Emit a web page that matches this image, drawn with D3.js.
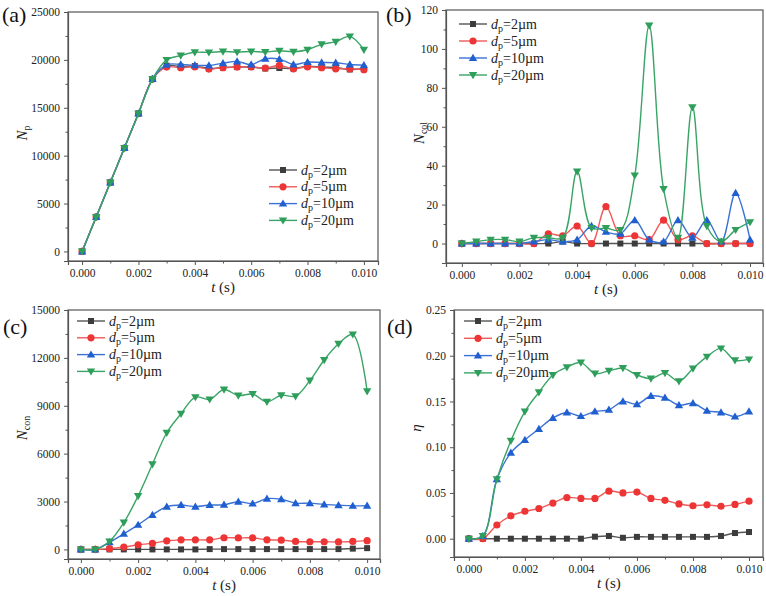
<!DOCTYPE html>
<html><head><meta charset="utf-8">
<script src="https://cdn.jsdelivr.net/npm/d3@7/dist/d3.min.js"></script>
<style>body{margin:0;background:#fff} svg text{font-family:'Liberation Serif';}</style>
</head><body><svg id="c" width="766" height="596"></svg>
<script>
const FONT = "'Liberation Serif'";
const times = [0,0.0005,0.001,0.0015,0.002,0.0025,0.003,0.0035,0.004,0.0045,0.005,0.0055,0.006,0.0065,0.007,0.0075,0.008,0.0085,0.009,0.0095,0.010];
const seriesNames = ["2µm","5µm","10µm","20µm"];
const colors = ["#3c3c3c","#ee3535","#1f5fd0","#2e9e5b"];
const lineColors = ["#555555","#f05a5a","#3a72d6","#3aa466"];
const symbols = ["square","circle","triUp","triDown"];

// (a) Np
const Np_2  = [0,3600,7200,10800,14400,18000,19400,19300,19350,19100,19200,19250,19250,19100,19150,19100,19350,19250,19200,19000,19100];
const Np_5  = [0,3600,7200,10800,14400,18000,19250,19180,19280,19040,19180,19250,19280,19140,19420,19070,19280,19180,19070,19070,18970];
const Np_10 = [0,3600,7200,10800,14400,18000,19490,19520,19450,19420,19660,19840,19520,20120,20080,19520,19770,19730,19700,19520,19450];
const Np_20 = [0,3600,7200,10800,14400,18000,20000,20450,20800,20780,20880,20810,20880,20820,20950,20850,21060,21620,21900,22450,21060];
// (b) Ncol
const Ncol_2  = [0,0,0,0,0,0,0,1,0,0,0,0,0,0,0,0,0,0,0,0,0];
const Ncol_5  = [0,0,0,0,0,0,5,4,9,0,19,4,4,2,12,2,4,0,0,0,0];
const Ncol_10 = [0,0,0,0,0,1,2,1,2,9,6,5,12,2,1,12,3,12,1,26,2];
const Ncol_20 = [0,1,2,2,1,3,3,3,37,8,8,7,35,112,28,3,70,9,1,7,11];
// (c) Ncon
const Ncon_2  = [0,0,0,0,0,0,0,0,0,20,20,20,20,20,20,20,20,20,20,50,80];
const Ncon_5  = [0,0,50,150,290,380,540,600,600,600,730,720,720,600,580,500,480,480,470,500,550];
const Ncon_10 = [0,0,450,980,1540,2160,2680,2780,2680,2780,2800,2990,2870,3180,3140,2900,2900,2820,2770,2730,2740];
const Ncon_20 = [0,0,500,1680,3350,5340,7310,8500,9540,9400,10020,9640,9730,9250,9660,9600,10580,11870,12880,13470,9910];
// (d) eta
const eta_2  = [0,0,0,0,0,0,0,0,0,0.0022,0.003,0.001,0.002,0.002,0.002,0.002,0.002,0.002,0.003,0.0062,0.0073];
const eta_5  = [0,0,0.015,0.025,0.030,0.033,0.039,0.045,0.044,0.044,0.052,0.050,0.051,0.044,0.042,0.038,0.036,0.037,0.0355,0.0375,0.041];
const eta_10 = [0,0.003,0.065,0.094,0.108,0.120,0.132,0.138,0.134,0.139,0.141,0.150,0.147,0.156,0.154,0.146,0.148,0.140,0.138,0.1335,0.139];
const eta_20 = [0,0.003,0.065,0.107,0.139,0.160,0.179,0.1875,0.1925,0.1805,0.1835,0.1865,0.179,0.175,0.181,0.172,0.186,0.199,0.208,0.195,0.196];

const xTicks = [0,0.002,0.004,0.006,0.008,0.010];
const yTicksA = [0,5000,10000,15000,20000,25000];
const yTicksB = [0,20,40,60,80,100,120];
const yTicksC = [0,3000,6000,9000,12000,15000];
const yTicksD = [0,0.05,0.10,0.15,0.20,0.25];

const svg = d3.select("#c");

const panels = [
  {label:"(a)", lx:2, ly:22, box:[68,12,378,261], xd:[-0.0005,0.0105], yd:[-1000,25000], yt:yTicksA, yfmt:d3.format("d"),
   data:[Np_2,Np_5,Np_10,Np_20], title:["N","p"], tx:27, ty:133, leg:[269,170,16.8]},
  {label:"(b)", lx:386, ly:22, box:[446,10,763,263], xd:[-0.00055,0.01045], yd:[-10,120], yt:yTicksB, yfmt:d3.format("d"),
   data:[Ncol_2,Ncol_5,Ncol_10,Ncol_20], title:["N","col"], tx:424, ty:133, leg:[459,24,17]},
  {label:"(c)", lx:3, ly:334, box:[68,310,380,559], xd:[-0.00045,0.01045], yd:[-600,15000], yt:yTicksC, yfmt:d3.format("d"),
   data:[Ncon_2,Ncon_5,Ncon_10,Ncon_20], title:["N","con"], tx:27, ty:428, leg:[77,321,16.8]},
  {label:"(d)", lx:387, ly:334, box:[454,310,763,557], xd:[-0.00053,0.0105], yd:[-0.02,0.25], yt:yTicksD, yfmt:d3.format(".2f"),
   data:[eta_2,eta_5,eta_10,eta_20], title:["η",""], tx:421, ty:428, leg:[464,321,17.3]}
];

function drawSymbol(g, type, x, y, col){
  if(type==="square") g.append("rect").attr("x",x-3).attr("y",y-3).attr("width",6).attr("height",6).attr("fill",col);
  else if(type==="circle") g.append("circle").attr("cx",x).attr("cy",y).attr("r",3.6).attr("fill",col);
  else if(type==="triUp") g.append("path").attr("d",`M${x},${y-4.2}L${x+4.2},${y+3}L${x-4.2},${y+3}Z`).attr("fill",col);
  else g.append("path").attr("d",`M${x},${y+4.2}L${x+4.2},${y-3}L${x-4.2},${y-3}Z`).attr("fill",col);
}

panels.forEach(p=>{
  const [L,T,R,B] = p.box;
  const x = d3.scaleLinear().domain(p.xd).range([L,R]);
  const y = d3.scaleLinear().domain(p.yd).range([B,T]);
  const g = svg.append("g");
  g.append("rect").attr("x",L).attr("y",T).attr("width",R-L).attr("height",B-T).attr("fill","none").attr("stroke","#555").attr("stroke-width",1.2);
  const xAxis = d3.axisBottom(x).tickValues(xTicks).tickFormat(d3.format(".3f")).tickSize(4).tickPadding(4);
  g.append("g").attr("transform",`translate(0,${B})`).call(xAxis);
  const xMinor = xTicks.slice(0,-1).map(v=>v+0.001);
  g.append("g").attr("transform",`translate(0,${B})`).call(d3.axisBottom(x).tickValues(xMinor).tickFormat("").tickSize(2.5)).select(".domain").remove();
  const yAxis = d3.axisLeft(y).tickValues(p.yt).tickFormat(p.yfmt).tickSize(4).tickPadding(4);
  g.append("g").attr("transform",`translate(${L},0)`).call(yAxis);
  const step = p.yt[1]-p.yt[0];
  const yMinor = p.yt.slice(0,-1).map(v=>v+step/2);
  g.append("g").attr("transform",`translate(${L},0)`).call(d3.axisLeft(y).tickValues(yMinor).tickFormat("").tickSize(2.5)).select(".domain").remove();
  g.selectAll(".domain").attr("stroke","#555").attr("stroke-width",1.2);
  g.selectAll(".tick line").attr("stroke","#555");
  g.selectAll(".tick text").style("font-family",FONT).attr("font-size",11.5).attr("fill","#222");
  const line = d3.line().x((d,i)=>x(times[i])).y(d=>y(d)).curve(d3.curveCatmullRom.alpha(0.5));
  p.data.forEach((arr,si)=>{
    g.append("path").attr("d",line(arr)).attr("fill","none").attr("stroke",lineColors[si]).attr("stroke-width",1.4);
    arr.forEach((v,i)=>drawSymbol(g,symbols[si],x(times[i]),y(v),colors[si]));
  });
  const [lx0,ly0,dy] = p.leg;
  seriesNames.forEach((n,si)=>{
    const yy = ly0+si*dy;
    g.append("line").attr("x1",lx0).attr("x2",lx0+28).attr("y1",yy).attr("y2",yy).attr("stroke",lineColors[si]).attr("stroke-width",1.4);
    drawSymbol(g,symbols[si],lx0+14,yy,colors[si]);
    const t = g.append("text").attr("x",lx0+32).attr("y",yy+4.5).attr("font-size",14).attr("fill","#222").style("font-family",FONT);
    t.append("tspan").attr("font-style","italic").text("d");
    t.append("tspan").attr("font-size",10).attr("dy",3).text("p");
    t.append("tspan").attr("dy",-3).text("="+n);
  });
  g.append("text").attr("x",p.lx).attr("y",p.ly).attr("font-size",22).attr("fill","#111").style("font-family",FONT).text(p.label);
  const xt = g.append("text").attr("x",(x(0)+x(0.01))/2).attr("y",B+31).attr("text-anchor","middle").attr("font-size",15).attr("fill","#222").style("font-family",FONT);
  xt.append("tspan").attr("font-style","italic").text("t");
  xt.append("tspan").text(" (s)");
  const yt = g.append("text").attr("transform",`translate(${p.tx},${p.ty}) rotate(-90)`).attr("text-anchor","middle").attr("font-size",15).attr("fill","#222").style("font-family",FONT);
  yt.append("tspan").attr("font-style","italic").text(p.title[0]);
  if(p.title[1]) yt.append("tspan").attr("font-size",10).attr("dy",3).text(p.title[1]);
});
</script></body></html>
